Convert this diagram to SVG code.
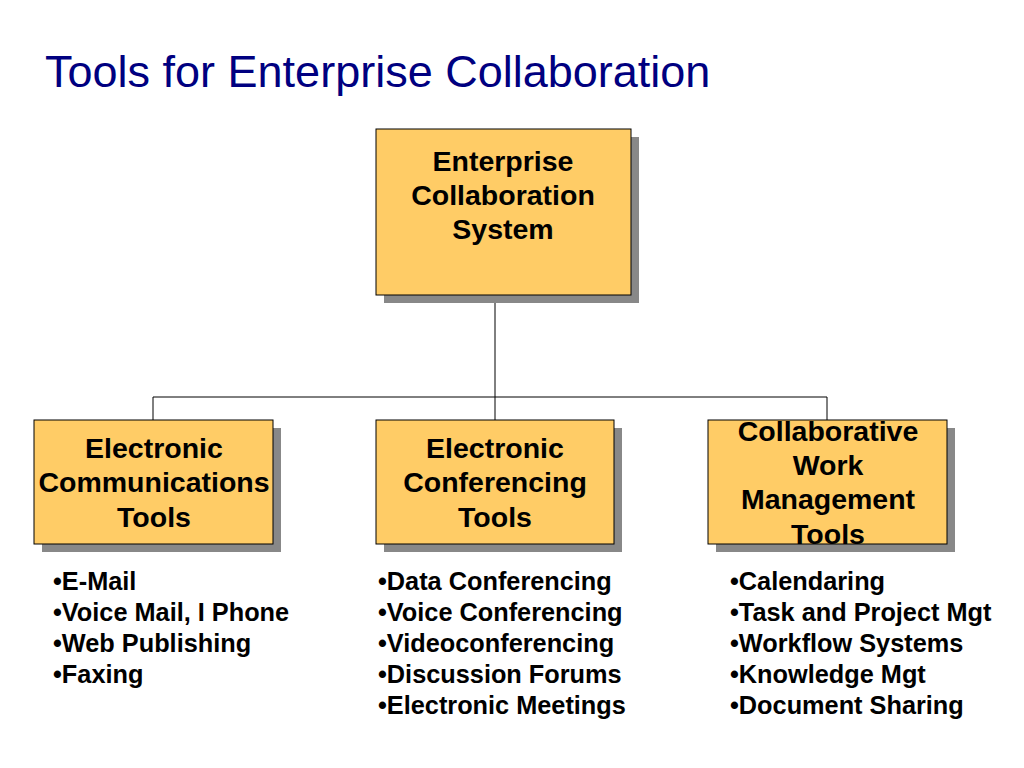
<svg xmlns="http://www.w3.org/2000/svg" width="1024" height="768" viewBox="0 0 1024 768">
<style>
.box{fill:#FFCC66;stroke:#000;stroke-width:1}
.sh{fill:#888}
.t{font-family:"Liberation Sans",Arial,sans-serif;font-weight:bold;font-size:28.5px;text-anchor:middle;fill:#000}
.b{font-family:"Liberation Sans",Arial,sans-serif;font-weight:bold;font-size:25.3px;fill:#000}
.c{stroke:#000;stroke-width:1;fill:none}
</style>
<rect width="1024" height="768" fill="#fff"/>
<text x="45" y="87" font-family="Liberation Sans,Arial,sans-serif" font-size="45" fill="#000080">Tools for Enterprise Collaboration</text>
<g id="connectors">
<path class="c" d="M495 295V428M153 397H827M153 397V420M827 397V420"/>
</g>
<g id="ecs">
<rect class="sh" x="384" y="137" width="255" height="166"/>
<rect class="box" x="376" y="129" width="255" height="166"/>
<text class="t" x="503" y="171">Enterprise</text>
<text class="t" x="503" y="205">Collaboration</text>
<text class="t" x="503" y="239">System</text>
</g>
<g id="ect">
<rect class="sh" x="42" y="428" width="239" height="124"/>
<rect class="box" x="34" y="420" width="239" height="124"/>
<text class="t" x="154" y="458">Electronic</text>
<text class="t" x="154" y="492">Communications</text>
<text class="t" x="154" y="527">Tools</text>
</g>
<g id="econf">
<rect class="sh" x="384" y="428" width="238" height="124"/>
<rect class="box" x="376" y="420" width="238" height="124"/>
<text class="t" x="495" y="458">Electronic</text>
<text class="t" x="495" y="492">Conferencing</text>
<text class="t" x="495" y="527">Tools</text>
</g>
<g id="cwm">
<rect class="sh" x="716" y="428" width="239" height="124"/>
<rect class="box" x="708" y="420" width="239" height="124"/>
<text class="t" x="828" y="441">Collaborative</text>
<text class="t" x="828" y="475">Work</text>
<text class="t" x="828" y="509">Management</text>
<text class="t" x="828" y="544">Tools</text>
</g>
<g id="list1">
<text class="b" x="53" y="590">•E-Mail</text>
<text class="b" x="53" y="621">•Voice Mail, I Phone</text>
<text class="b" x="53" y="652">•Web Publishing</text>
<text class="b" x="53" y="683">•Faxing</text>
</g>
<g id="list2">
<text class="b" x="378" y="590">•Data Conferencing</text>
<text class="b" x="378" y="621">•Voice Conferencing</text>
<text class="b" x="378" y="652">•Videoconferencing</text>
<text class="b" x="378" y="683">•Discussion Forums</text>
<text class="b" x="378" y="714">•Electronic Meetings</text>
</g>
<g id="list3">
<text class="b" x="730" y="590">•Calendaring</text>
<text class="b" x="730" y="621">•Task and Project Mgt</text>
<text class="b" x="730" y="652">•Workflow Systems</text>
<text class="b" x="730" y="683">•Knowledge Mgt</text>
<text class="b" x="730" y="714">•Document Sharing</text>
</g>
</svg>
